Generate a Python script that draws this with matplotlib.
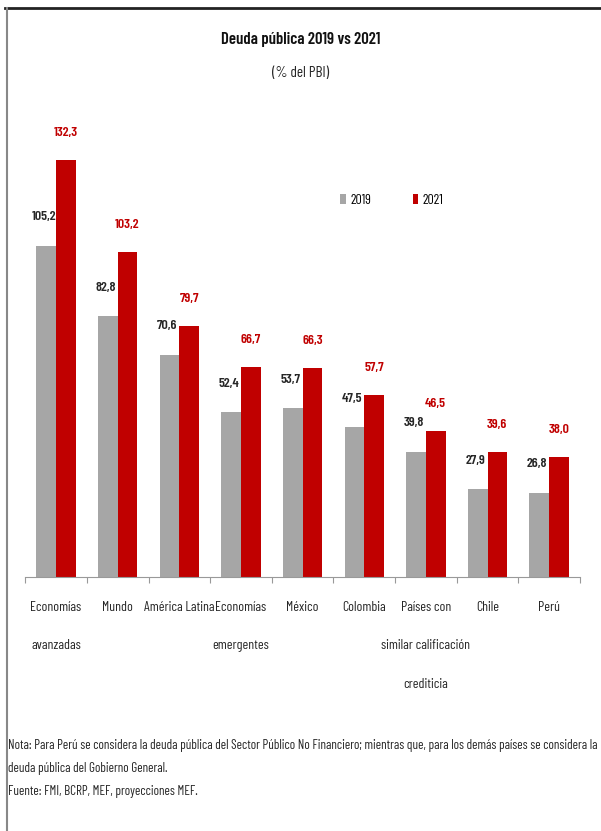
import matplotlib
matplotlib.use('Agg')
import matplotlib.pyplot as plt
from matplotlib.lines import Line2D
import numpy as np

plt.rcParams['font.family'] = ['Barlow Condensed', 'DejaVu Sans']

categories = ['Economías\navanzadas', 'Mundo', 'América Latina', 'Economías\nemergentes',
              'México', 'Colombia', 'Países con\nsimilar calificación\ncrediticia', 'Chile', 'Perú']
deuda_2019 = [105.2, 82.8, 70.6, 52.4, 53.7, 47.5, 39.8, 27.9, 26.8]
deuda_2021 = [132.3, 103.2, 79.7, 66.7, 66.3, 57.7, 46.5, 39.6, 38.0]

gris = '#a6a6a6'
rojo = '#c00000'
texto = '#262626'

fig = plt.figure(figsize=(6.01, 8.31), dpi=100)
ax = fig.add_axes([0.042, 0.3057, 0.923, 0.5306])

x = np.arange(len(categories))
w = 0.32
ax.bar(x - w / 2, deuda_2019, width=w, color=gris, label='2019')
ax.bar(x + w / 2, deuda_2021, width=w, color=rojo, label='2021')

# etiquetas de valor con coma decimal
for xi, v in zip(x, deuda_2019):
    ax.annotate(f'{v:.1f}'.replace('.', ','), (xi - w / 2 - 0.04, v), xytext=(0, 16),
                textcoords='offset points', ha='center', va='bottom',
                fontsize=10, fontweight='semibold', color=texto)
for xi, v in zip(x, deuda_2021):
    ax.annotate(f'{v:.1f}'.replace('.', ','), (xi + w / 2, v), xytext=(0, 15),
                textcoords='offset points', ha='center', va='bottom',
                fontsize=10, fontweight='semibold', color=rojo)

ax.set_xlim(-0.5, len(categories) - 0.5)
ax.set_ylim(0, 140)
ax.set_yticks([])
for s in ['top', 'right', 'left']:
    ax.spines[s].set_visible(False)
ax.spines['bottom'].set_color('#999999')
ax.set_xticks(np.arange(len(categories) + 1) - 0.5)
ax.set_xticklabels([])
ax.tick_params(axis='x', direction='out', length=4, color='#999999')

# nombres de categorías, una línea por texto
for xi, cat in zip(x, categories):
    for i, linea in enumerate(cat.split('\n')):
        ax.annotate(linea, (xi, 0), xytext=(0, -17 - i * 28), textcoords='offset points',
                    ha='center', va='top', fontsize=10, color=texto)

ax.legend(loc='center', bbox_to_anchor=(0.652, 0.759), bbox_transform=fig.transFigure,
          ncol=2, frameon=False, handlelength=0.4, handleheight=0.7, handletextpad=0.3,
          columnspacing=3.0, fontsize=10)

fig.text(0.5, 0.953, 'Deuda pública 2019 vs 2021', ha='center', va='center',
         fontsize=12, fontweight='semibold', color='#111111')
fig.text(0.5, 0.912, '(% del PBI)', ha='center', va='center', fontsize=11, color=texto)

nota = ('Nota: Para Perú se considera la deuda pública del Sector Público No Financiero; '
        'mientras que, para los demás países se considera la')
fig.text(0.014, 0.103, nota, ha='left', va='center', fontsize=9.5, color=texto)
fig.text(0.014, 0.075, 'deuda pública del Gobierno General.', ha='left', va='center',
         fontsize=9.5, color=texto)
fig.text(0.014, 0.047, 'Fuente: FMI, BCRP, MEF, proyecciones MEF.', ha='left', va='center',
         fontsize=9.5, color=texto)

# marco superior e izquierdo
fig.add_artist(Line2D([0.008, 1.0], [0.990, 0.990], color='#222222', lw=2))
fig.add_artist(Line2D([0.011, 0.011], [0.0, 0.990], color='#888888', lw=1.5))

fig.savefig('out.png', dpi=100)
